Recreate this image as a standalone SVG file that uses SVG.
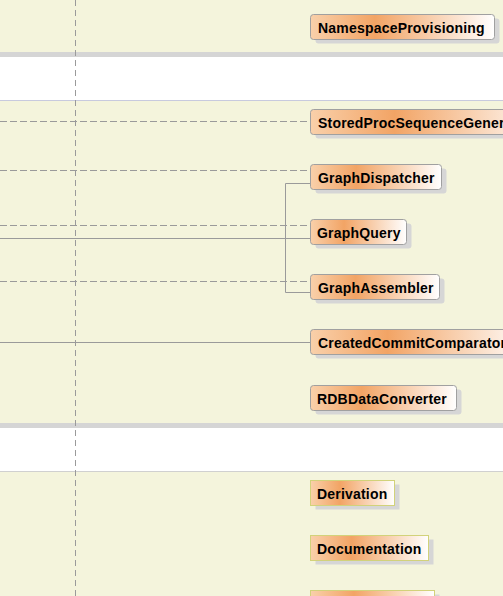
<svg xmlns="http://www.w3.org/2000/svg" width="503" height="596" viewBox="0 0 503 596">
<defs>
<linearGradient id="g" x1="0" y1="0" x2="1" y2="0">
<stop offset="0" stop-color="#f9d0aa"/>
<stop offset="0.35" stop-color="#f2a465"/>
<stop offset="1" stop-color="#ffffff"/>
</linearGradient>
<style>
.band{fill:#f4f4dc}
.strip{fill:#d5d5d5}
.sh{fill:#d6d6d6}
.n{fill:url(#g);stroke:#a0a0a0;stroke-width:1}
.q{fill:url(#g);stroke:#d2d27a;stroke-width:1}
.t{font-family:"Liberation Sans",Arial,sans-serif;font-weight:bold;font-size:14px;letter-spacing:0.2px;fill:#000}
.d{stroke:#9a9a9a;stroke-width:1;fill:none;stroke-dasharray:7,3}
.s{stroke:#9a9a9a;stroke-width:1;fill:none}
</style>
</defs>
<rect x="0" y="0" width="503" height="596" fill="#ffffff"/>
<rect class="band" x="0" y="0" width="503" height="52"/>
<rect class="strip" x="0" y="52" width="503" height="5"/>
<line x1="0" y1="100.5" x2="503" y2="100.5" stroke="#c8cade"/>
<rect class="band" x="0" y="101" width="503" height="322"/>
<rect class="strip" x="0" y="423" width="503" height="5"/>
<line x1="0" y1="471.5" x2="503" y2="471.5" stroke="#d0d0d0"/>
<rect class="band" x="0" y="472" width="503" height="124"/>
<line x1="75.5" y1="0" x2="75.5" y2="596" stroke="#9a9a9a" stroke-dasharray="6,4"/>
<g id="connectors">
<line class="d" x1="0" y1="121.5" x2="310" y2="121.5"/>
<line class="d" x1="0" y1="170.5" x2="310" y2="170.5"/>
<line class="d" x1="0" y1="225.5" x2="310" y2="225.5"/>
<line class="s" x1="0" y1="238.5" x2="310" y2="238.5"/>
<line class="d" x1="0" y1="281.5" x2="310" y2="281.5"/>
<polyline class="s" points="310,183.5 285.5,183.5 285.5,292.5 310,292.5"/>
<line class="s" x1="0" y1="342.5" x2="310" y2="342.5"/>
</g>
<g id="NamespaceProvisioning">
<rect class="sh" x="315.5" y="18.5" width="184" height="25" rx="3"/>
<rect class="n" x="310.5" y="14.5" width="184" height="25" rx="3"/>
<text class="t" x="318" y="32.5">NamespaceProvisioning</text>
</g>
<g id="StoredProcSequenceGenerator">
<rect class="sh" x="315.5" y="113.5" width="240" height="25" rx="3"/>
<rect class="n" x="310.5" y="109.5" width="240" height="25" rx="3"/>
<text class="t" x="318" y="127.5">StoredProcSequenceGenerator</text>
</g>
<g id="GraphDispatcher">
<rect class="sh" x="315.5" y="168.5" width="131" height="25" rx="3"/>
<rect class="n" x="310.5" y="164.5" width="131" height="25" rx="3"/>
<text class="t" x="318" y="182.5">GraphDispatcher</text>
</g>
<g id="GraphQuery">
<rect class="sh" x="315.5" y="223.5" width="96" height="25" rx="3"/>
<rect class="n" x="310.5" y="219.5" width="96" height="25" rx="3"/>
<text class="t" x="317" y="237.5">GraphQuery</text>
</g>
<g id="GraphAssembler">
<rect class="sh" x="315.5" y="278.5" width="129" height="25" rx="3"/>
<rect class="n" x="310.5" y="274.5" width="129" height="25" rx="3"/>
<text class="t" x="318" y="292.5">GraphAssembler</text>
</g>
<g id="CreatedCommitComparator">
<rect class="sh" x="315.5" y="333.5" width="220" height="25" rx="3"/>
<rect class="n" x="310.5" y="329.5" width="220" height="25" rx="3"/>
<text class="t" x="318" y="347.5">CreatedCommitComparator</text>
</g>
<g id="RDBDataConverter">
<rect class="sh" x="315.5" y="389.5" width="146" height="25" rx="3"/>
<rect class="n" x="310.5" y="385.5" width="146" height="25" rx="3"/>
<text class="t" x="317" y="403.5">RDBDataConverter</text>
</g>
<g id="Derivation">
<rect class="sh" x="315.5" y="484.5" width="84" height="25"/>
<rect class="q" x="310.5" y="480.5" width="84" height="25"/>
<text class="t" x="317" y="498.5">Derivation</text>
</g>
<g id="Documentation">
<rect class="sh" x="315.5" y="539.5" width="118" height="25"/>
<rect class="q" x="310.5" y="535.5" width="118" height="25"/>
<text class="t" x="317" y="553.5">Documentation</text>
</g>
<g id="Bottom">
<rect class="sh" x="315.5" y="594.5" width="124" height="25"/>
<rect class="q" x="310.5" y="590.5" width="124" height="25"/>
</g>
</svg>
